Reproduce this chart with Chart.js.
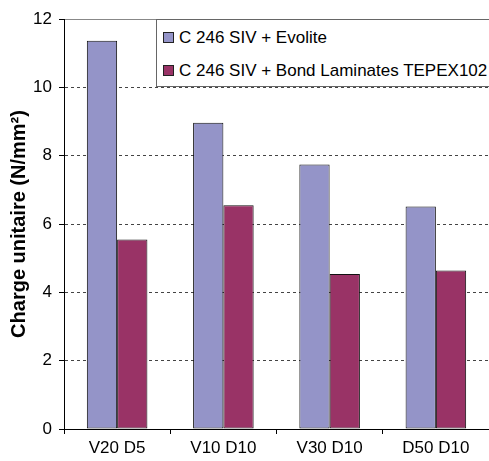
<!DOCTYPE html>
<html>
<head>
<meta charset="utf-8">
<script src="https://cdn.jsdelivr.net/npm/chart.js@4"></script>
<style>
  html, body { margin: 0; padding: 0; background: #fff; overflow: hidden; }
  #wrap { position: relative; width: 489px; height: 461px; }
  #legend {
    position: absolute; left: 156px; top: 19px; width: 340px; height: 68px;
    border: 1px solid #666; background: #fff; box-sizing: border-box;
    font-family: "Liberation Sans", Arial, sans-serif; font-size: 17px; color: #000;
  }
  .item { position: absolute; left: 6px; height: 20px; line-height: 20px; white-space: nowrap; }
  .sw { display: inline-block; width: 9px; height: 9px; border: 1px solid #222; vertical-align: middle; margin-right: 5px; position: relative; top: -1px; }
</style>
</head>
<body>
<div id="wrap">
  <canvas id="c" width="489" height="461"></canvas>
  <div id="legend"></div>
</div>
<script>
const categories = ["V20 D5", "V10 D10", "V30 D10", "D50 D10"];
const seriesNames = ["C 246 SIV + Evolite", "C 246 SIV + Bond Laminates TEPEX102"];
const evolite = [11.36, 8.96, 7.74, 6.51];
const bondLaminates = [5.55, 6.55, 4.54, 4.64];
const yTicks = [0, 2, 4, 6, 8, 10, 12];
const colors = ["#9494C8", "#993366"];

const legend = document.getElementById('legend');
seriesNames.forEach((name, i) => {
  const d = document.createElement('div');
  d.className = 'item';
  d.style.top = (i === 0 ? 8 : 41) + 'px';
  d.innerHTML = '<span class="sw" style="background:' + colors[i] + '"></span>' + name;
  legend.appendChild(d);
});

const FONT = "'Liberation Sans', Arial, sans-serif";

new Chart(document.getElementById('c'), {
  type: 'bar',
  data: {
    labels: categories,
    datasets: [
      { label: seriesNames[0], data: evolite, backgroundColor: colors[0], borderColor: '#111', borderWidth: 1, borderSkipped: false },
      { label: seriesNames[1], data: bondLaminates, backgroundColor: colors[1], borderColor: '#111', borderWidth: 1, borderSkipped: false }
    ]
  },
  options: {
    responsive: false,
    animation: false,
    layout: { padding: { top: 19, right: 0, left: 0, bottom: 0 } },
    datasets: { bar: { categoryPercentage: 0.57, barPercentage: 1.0 } },
    plugins: { legend: { display: false }, tooltip: { enabled: false } },
    scales: {
      x: {
        grid: { display: true, drawOnChartArea: false, drawTicks: true, tickLength: 5, tickColor: '#000', offset: true },
        border: { display: true, color: '#000', width: 1 },
        ticks: { color: '#000', font: { family: FONT, size: 17 }, padding: 4 },
        afterFit: (s) => { s.height = 32; }
      },
      y: {
        min: 0, max: 12,
        afterBuildTicks: (s) => { s.ticks = yTicks.map(v => ({ value: v })); },
        grid: {
          color: (ctx) => (ctx.tick && ctx.tick.value === 0) ? 'rgba(0,0,0,0)' : (ctx.tick && ctx.tick.value === 12 ? '#888' : '#444'),
          lineWidth: 1, tickLength: 5, tickColor: '#000'
        },
        border: { display: true, color: '#000', width: 1, dash: (ctx) => (ctx.tick && ctx.tick.value === 12) ? [] : [3, 3] },
        ticks: { color: '#000', font: { family: FONT, size: 17 }, padding: 7 },
        title: { display: true, text: 'Charge unitaire (N/mm²)', color: '#000', font: { family: FONT, size: 20, weight: 'bold' }, padding: { top: 7, bottom: 0 } },
        afterFit: (s) => { s.width = 64; }
      }
    }
  }
});
</script>
</body>
</html>
